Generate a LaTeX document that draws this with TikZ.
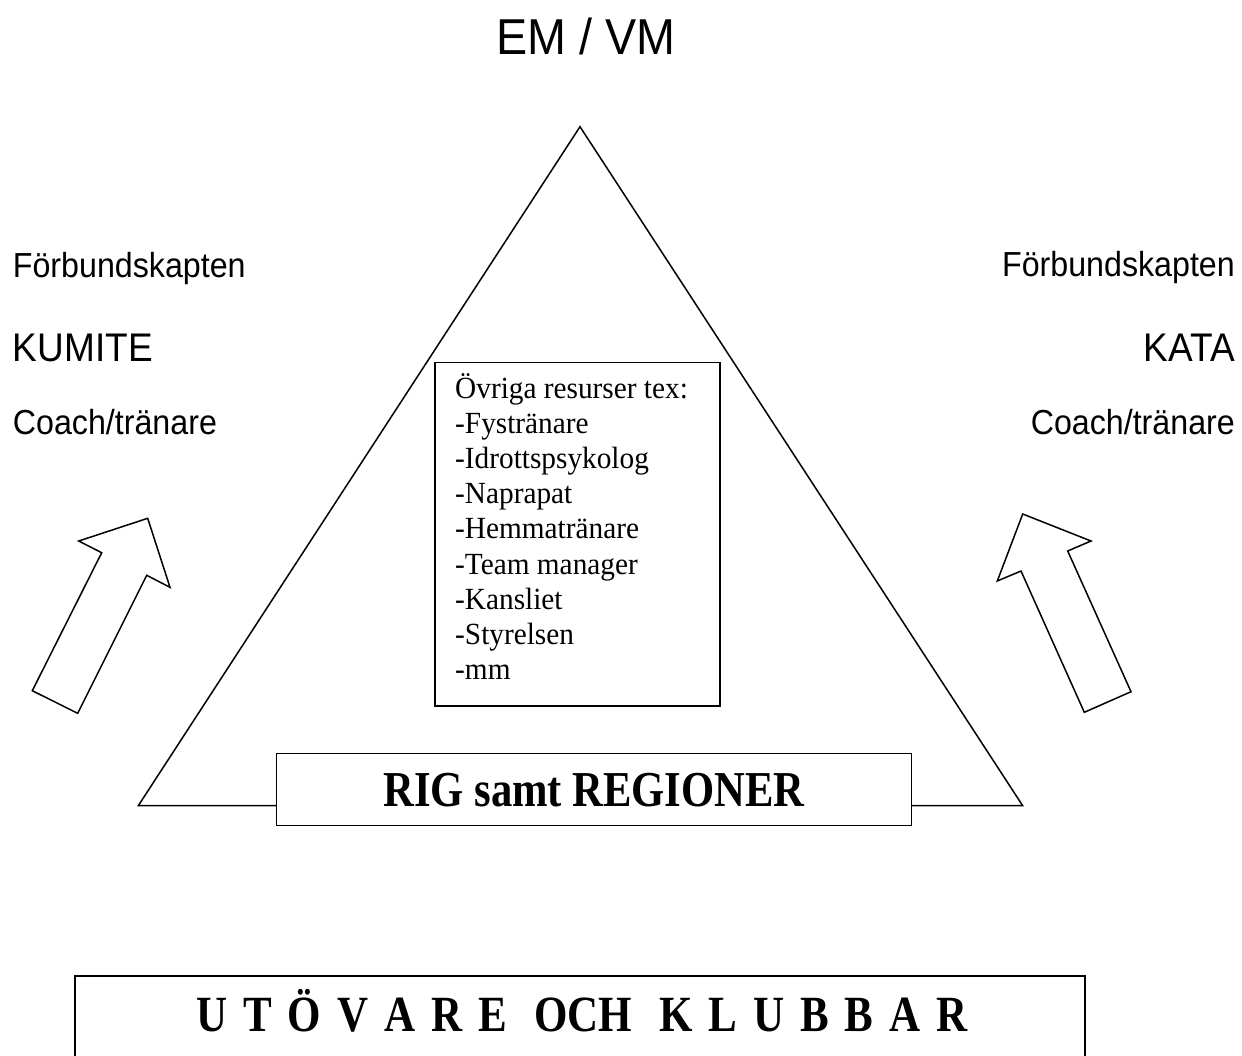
\documentclass[tikz,border=0pt]{standalone}
\usepackage{fontspec}
\usepackage{graphicx}
\setmainfont{Liberation Serif}
\newfontfamily\arialf{Liberation Sans}
\newcommand\myks{\kern16pt}
\newcommand\mykk{\kern27pt}
\newcommand\tallsans[1]{\scalebox{1}[1.08]{#1}}
\newcommand\tallserif[1]{\scalebox{1}[1.18]{#1}}
\begin{document}
\begin{tikzpicture}[x=1pt,y=-1pt,line join=miter,
  ln/.style={line width=1.5pt},
  lbl/.style={inner sep=0pt},
  hugesans/.style={lbl,font=\arialf\fontsize{46.7}{56}\selectfont},
  midsans/.style={lbl,font=\arialf\fontsize{32.2}{40}\selectfont},
  bigsans/.style={lbl,font=\arialf\fontsize{37}{44}\selectfont},
  restxt/.style={lbl,anchor=base west,font=\fontsize{29.3}{35}\selectfont},
  boxtxt/.style={lbl,font=\bfseries\fontsize{42.6}{50}\selectfont},
  arrowshape/.style={ln,fill=white}
]
\clip (0,0) rectangle (1242,1055);
\fill[white] (0,0) rectangle (1242,1055);

% triangle
\coordinate (apex) at (580,126.7);
\coordinate (bl) at (138.3,805.7);
\coordinate (br) at (1022.7,805.7);
\draw[ln] (bl) -- (apex) -- (br) -- cycle;

% title
\node[hugesans,anchor=base] (em) at (585.9,54) {\tallsans{EM / VM}};

% left labels
\node[midsans,anchor=base west] (fl) at (12.7,277) {\tallsans{Förbundskapten}};
\node[bigsans,anchor=base west] (ku) at (12.7,361) {\tallsans{KUMITE}};
\node[midsans,anchor=base west] (cl) at (12.7,434.5) {\tallsans{Coach/tränare}};

% right labels
\node[midsans,anchor=base east] (fr) at (1235,276.5) {\tallsans{Förbundskapten}};
\node[bigsans,anchor=base east] (ka) at (1235,361) {\tallsans{KATA}};
\node[midsans,anchor=base east] (cr) at (1235,434) {\tallsans{Coach/tränare}};

% resources box
\node[draw,ln,fill=white,anchor=north west,inner sep=0pt,minimum width=285pt,minimum height=343.3pt] (res) at (434,361.7) {};
\foreach \t [count=\i from 0] in {Övriga resurser tex:,-Fystränare,-Idrottspsykolog,-Naprapat,-Hemmatränare,-Team manager,-Kansliet,-Styrelsen,-mm}
  \node[restxt] (r\i) at (455,{398+35.2*\i}) {\scalebox{1}[1.05]{\t}};

% RIG box
\node[draw,ln,fill=white,minimum width=635pt,minimum height=72.4pt] (rig) at (594.2,789.5) {};
\node[boxtxt,anchor=base] (rigtxt) at (594,806) {\tallserif{RIG samt REGIONER}};

% left arrow
\draw[arrowshape] (147.7,518.3) coordinate (lt) -- (170,587.3) -- (146.7,575.3) -- (77.7,713.3) -- (32.3,690.7) -- (101.7,552.7) -- (78.7,541) -- cycle;
% right arrow
\draw[arrowshape] (1022.7,514) coordinate (rt) -- (1091,541) -- (1067.7,551) -- (1131,691.7) -- (1084.3,712.3) -- (1021,571) -- (997.3,581) -- cycle;

% bottom box
\node[draw,line width=1.8pt,anchor=north west,inner sep=0pt,minimum width=1009.7pt,minimum height=120pt] (ut) at (74.3,975) {};
\node[lbl,anchor=base,font=\bfseries\fontsize{43}{50}\selectfont] (uttxt) at (582,1031)
  {\tallserif{U\myks T\myks Ö\myks V\myks A\myks R\myks E\mykk OCH\mykk K\myks L\myks U\myks B\myks B\myks A\myks R}};
\end{tikzpicture}
\end{document}
